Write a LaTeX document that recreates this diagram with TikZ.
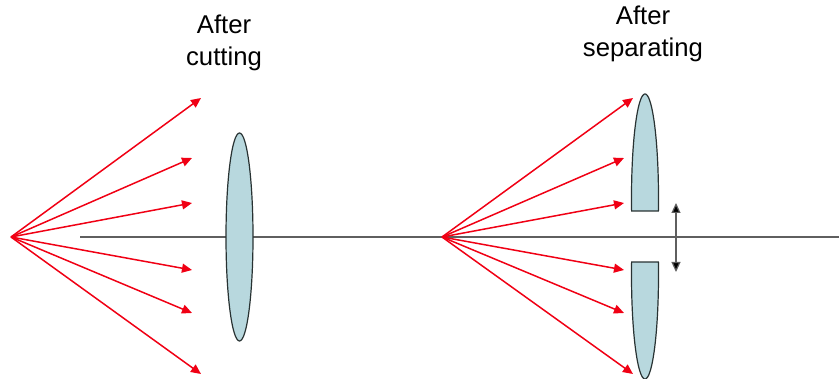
\documentclass[tikz,border=0pt]{standalone}
\usepackage{fontspec}
\setmainfont{Liberation Sans}
\usetikzlibrary{arrows.meta}
\definecolor{lensfill}{RGB}{184,216,222}
\definecolor{lensline}{RGB}{40,50,50}
\definecolor{axisgray}{RGB}{95,95,95}
\definecolor{rayred}{RGB}{240,0,20}
\tikzset{
  ray/.style={draw=rayred,line width=1.5pt,-{Triangle[length=10pt,width=9pt,fill=rayred]}},
  lens/.style={draw=lensline,line width=1.2pt,fill=lensfill},
  axisline/.style={draw=axisgray,line width=1.1pt},
  shift arrow/.style={draw=axisgray,line width=1.2pt,{Triangle[length=10pt,width=9pt,fill=black]}-{Triangle[length=10pt,width=9pt,fill=black]}},
  caption/.style={font=\fontsize{25.7}{32}\selectfont,align=center,inner sep=0pt,text=black}
}
\begin{document}
\begin{tikzpicture}[x=1pt,y=-1pt]
\useasboundingbox (0,0) rectangle (839,379);
\coordinate (axisL) at (80,237);
\coordinate (axisR) at (839,237);
\draw[axisline] (axisL) -- (axisR);
\draw[lens] (239.5,237) ellipse [x radius=13.5pt,y radius=104pt];
\draw[lens] plot[domain=-7.18:187.18,samples=80] ({645+13.5*cos(\x)},{198-104*sin(\x)}) -- cycle;
\draw[lens] plot[domain=172.82:367.18,samples=80] ({645+13.5*cos(\x)},{275-104*sin(\x)}) -- cycle;
\coordinate (s1) at (11,237);
\coordinate (s2) at (442,237);
\foreach \n/\x/\y in {a/201/98,b/192/158,c/192/203,d/192/270,e/192/313,f/201/374}{
  \coordinate (l\n) at (\x,\y);
  \draw[ray] (s1) -- (l\n);
}
\foreach \n/\x/\y in {a/633/98,b/624/158,c/624/203,d/624/270,e/624/313,f/633/374}{
  \coordinate (r\n) at (\x,\y);
  \draw[ray] (s2) -- (r\n);
}
\coordinate (up) at (676,203);
\coordinate (dn) at (676,272);
\draw[shift arrow] (up) -- (dn);
\node[caption] (t1) at (224,42.5) {After\\cutting};
\node[caption] (t2) at (643,33.5) {After\\separating};
\end{tikzpicture}
\end{document}
